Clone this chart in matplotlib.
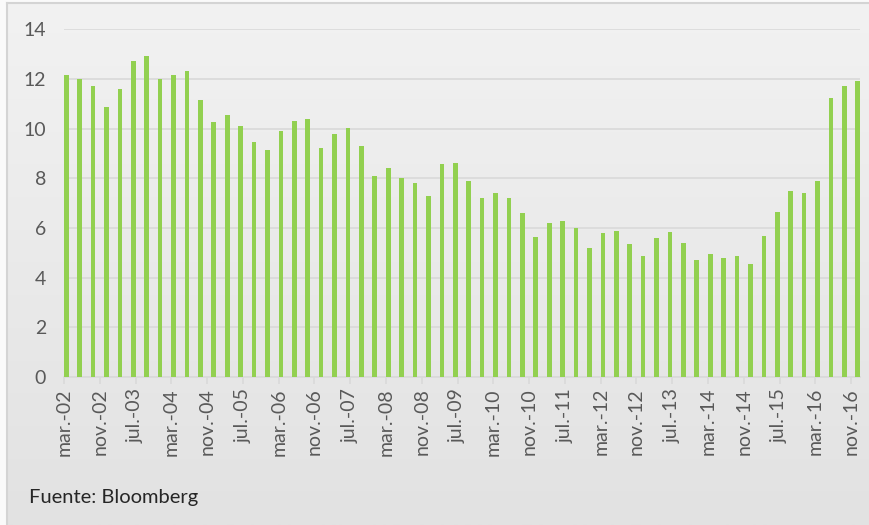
import numpy as np
import matplotlib
matplotlib.use("Agg")
import matplotlib.pyplot as plt
from matplotlib.lines import Line2D

# Quarterly values, mar-02 .. dec-16
values = [
    12.18, 11.98, 11.71, 10.86, 11.61, 12.74, 12.93, 11.98, 12.18, 12.31,
    11.15, 10.25, 10.53, 10.11, 9.46, 9.16, 9.92, 10.30, 10.39, 9.21,
    9.78, 10.02, 9.31, 8.09, 8.41, 8.03, 7.81, 7.28, 8.56, 8.60,
    7.89, 7.19, 7.39, 7.19, 6.59, 5.63, 6.21, 6.30, 5.98, 5.18,
    5.78, 5.87, 5.36, 4.88, 5.59, 5.83, 5.40, 4.71, 4.94, 4.80,
    4.88, 4.56, 5.69, 6.63, 7.47, 7.39, 7.89, 11.24, 11.71, 11.90,
]
start_year, start_month = 2002, 3  # first bar: march 2002
tick_step = 8  # months between axis labels
month_names = ["ene.", "feb.", "mar.", "abr.", "may.", "jun.",
               "jul.", "ago.", "sep.", "oct.", "nov.", "dic."]
source_text = "Fuente: Bloomberg"

# month offsets from mar-02 for each quarterly bar
months = np.arange(len(values)) * 3
last_month = months[-1] + 1

tick_pos = np.arange(0, last_month, tick_step)
tick_labels = []
for m in tick_pos:
    total = start_month - 1 + m
    y = start_year + total // 12
    tick_labels.append(f"{month_names[total % 12]}-{y % 100:02d}")

plt.rcParams['font.family'] = ['Lato', 'DejaVu Sans']

W, H = 869, 525
fig = plt.figure(figsize=(W / 100, H / 100), dpi=100)

# gradient background
bg = fig.add_axes([0, 0, 1, 1], zorder=-10)
grad = np.linspace(0, 1, 256).reshape(-1, 1)
bg.imshow(grad, aspect='auto', cmap=matplotlib.colors.LinearSegmentedColormap.from_list(
    "g", ["#f2f2f2", "#e2e2e2"]), extent=[0, 1, 0, 1], origin='upper')
bg.set_xlim(0, 1)
bg.set_ylim(0, 1)
bg.axis('off')

# outer border (top and left)
fig.add_artist(Line2D([7 / W, 1], [1 - 3 / H, 1 - 3 / H], color="#d4d4d4", lw=1.5))
fig.add_artist(Line2D([7 / W, 7 / W], [0, 1 - 3 / H], color="#d4d4d4", lw=1.5))
# white strip outside border
fig.add_artist(matplotlib.patches.Rectangle((0, 1 - 2.2 / H), 1, 2.2 / H,
                                            color="#fafafa", lw=0))
fig.add_artist(matplotlib.patches.Rectangle((0, 0), 6.2 / W, 1,
                                            color="#fafafa", lw=0))

ax = fig.add_axes([64 / W, 1 - 377 / H, (860 - 64) / W, (377 - 29.3) / H])
ax.set_facecolor('none')
ax.bar(months + 0.5, values, width=1.05, color="#92d050", zorder=3)

ax.set_xlim(0, last_month)
ax.set_ylim(0, 14)
ax.set_yticks(range(0, 15, 2))
ax.set_xticks(tick_pos)
ax.set_xticklabels(tick_labels, rotation=90)
ax.grid(axis='y', color="#d9d9d9", lw=1.2, zorder=0)

for s in ['top', 'right', 'left']:
    ax.spines[s].set_visible(False)
ax.spines['bottom'].set_color("#d9d9d9")
ax.spines['bottom'].set_linewidth(1.2)
ax.tick_params(axis='y', length=0, pad=13, labelsize=14, labelcolor="#595959")
ax.tick_params(axis='x', length=5, width=1.2, color="#d9d9d9", pad=3,
               labelsize=14, labelcolor="#595959")

fig.text(29 / W, 1 - 498 / H, source_text, fontsize=14.5, color="#262626",
         va='center', ha='left')

fig.savefig("out.png", dpi=100)
